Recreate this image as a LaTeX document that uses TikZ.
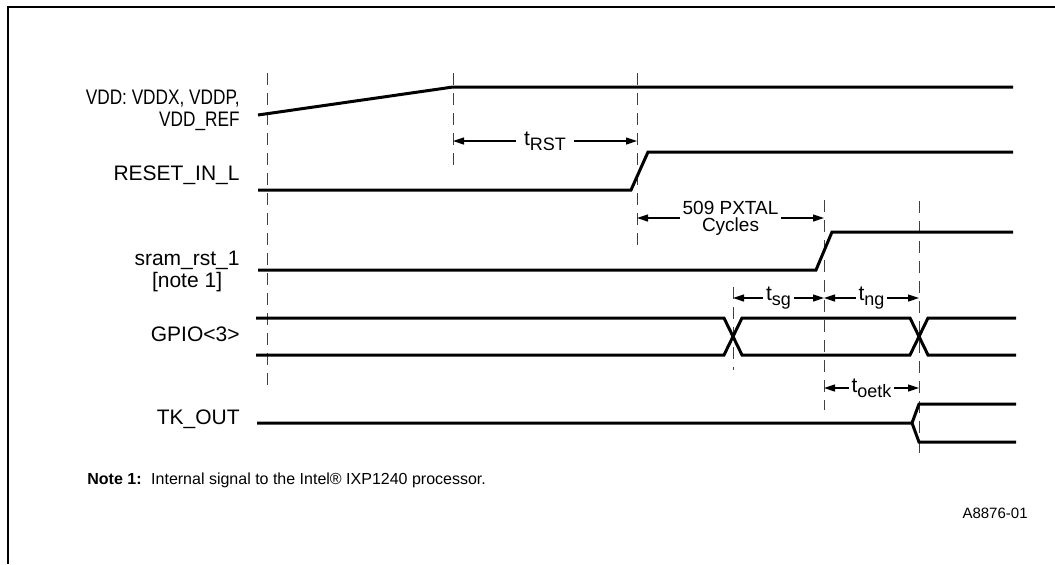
\documentclass[tikz,border=0pt]{standalone}
\usepackage{fontspec}
\setmainfont{Liberation Sans}
\usetikzlibrary{arrows.meta,positioning,calc}

\newcommand{\tname}[2]{#1\raisebox{-0.45ex}{\fontsize{9}{9}\selectfont #2}}

\begin{document}
\begin{tikzpicture}[x=0.5pt,y=-0.5pt,
	sig/.style={line width=1.5pt},
	guide/.style={line width=0.5pt, black!75, dash pattern=on 6pt off 4pt},
	dim/.style={line width=0.6pt, {Triangle[length=5.5pt,width=3.5pt]}-{Triangle[length=5.5pt,width=3.5pt]}},
	lbl/.style={anchor=east, inner sep=0pt, align=right, font=\fontsize{10.5}{11}\selectfont},
	tlab/.style={fill=white, inner sep=1.5pt, font=\fontsize{10.5}{10}\selectfont}]
	\useasboundingbox (0,0) rectangle (1055,564);
	\draw[line width=1.1pt] (8,564) -- (8,7) -- (1055,7);
	\foreach \x/\a/\b in {267/73/390, 453/73/167, 637/73/248, 733/287/370, 824/200/410, 919/201/459} {
		\draw[guide] (\x,\a) -- (\x,\b);
	}
	\draw[sig] (258,115) -- (453,87) -- (1013,87);
	\draw[sig] (258,190) -- (631,190) -- (648,152) -- (1013,152);
	\draw[sig] (258,270) -- (816,270) -- (832,232) -- (1013,232);
	\draw[sig] (256,318) -- (724,318) -- (742,355) -- (910,355) -- (928,318) -- (1016,318);
	\draw[sig] (256,355) -- (724,355) -- (742,318) -- (910,318) -- (928,355) -- (1016,355);
	\draw[sig] (257,423) -- (912,423) -- (919,404) -- (1016,404);
	\draw[sig] (912,423) -- (919,442) -- (1016,442);
	\node[lbl] (vdd) at (240,110) {\scalebox{0.82}[1]{VDD: VDDX, VDDP,}\\\scalebox{0.82}[1]{VDD\_REF}};
	\node[lbl] (reset) at (240,175) {RESET\_IN\_L};
	\node[lbl, align=center] (sram) at (240,271) {sram\_rst\_1\\{}[note 1]};
	\node[lbl] (gpio) at (240,334) {GPIO<3>};
	\node[lbl] (tkout) at (240,419) {TK\_OUT};
	\draw[dim] (453,141) -- (637,141) node[tlab, midway, inner sep=4pt] (trst) {\tname{t}{RST}};
	\draw[dim] (637,218) -- (824,218) node[tlab, midway, align=center, font=\fontsize{9.5}{8.5}\selectfont] (pxtal) {509 PXTAL\\Cycles};
	\draw[dim] (733,298) -- (824,298) node[tlab, midway] (tsg) {\tname{t}{sg}};
	\draw[dim] (824,298) -- (919,298) node[tlab, midway] (tng) {\tname{t}{ng}};
	\draw[dim] (824,388) -- (919,388) node[tlab, midway] (toetk) {\tname{t}{oetk}};
	\node[anchor=west, inner sep=0pt, font=\fontsize{8}{9}\selectfont] (note) at (87,480) {\textbf{Note 1:}\hspace{0.6em}Internal signal to the Intel® IXP1240 processor.};
	\node[anchor=east, inner sep=0pt, font=\fontsize{7.5}{9}\selectfont] (fig) at (1028,513) {A8876-01};
\end{tikzpicture}
\end{document}
